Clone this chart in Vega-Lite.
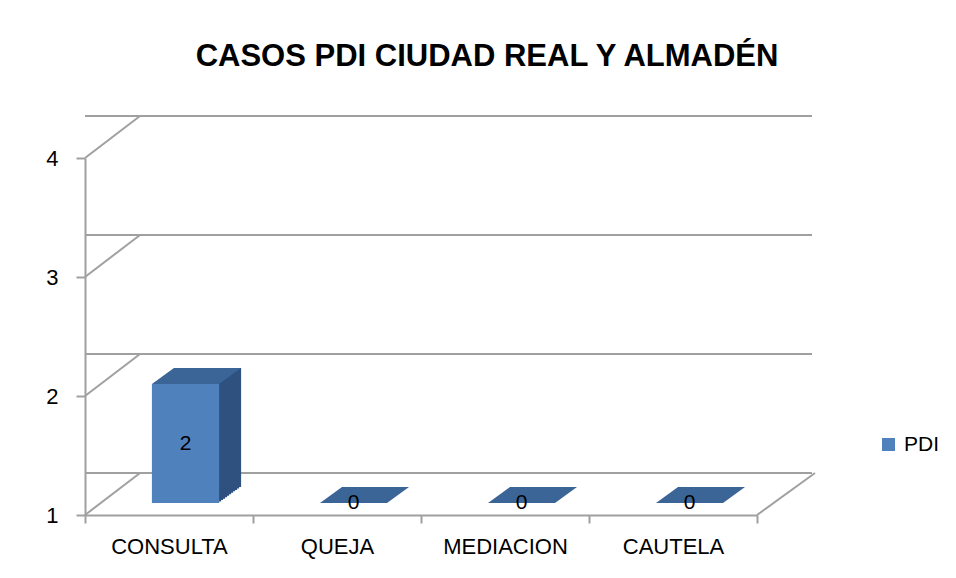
{
  "$schema": "https://vega.github.io/schema/vega-lite/v6.json",
  "width": 672,
  "height": 357,
  "autosize": {"type": "none"},
  "padding": {"left": 85, "top": 158, "right": 199, "bottom": 63},
  "background": "white",
  "title": {"text": "CASOS PDI CIUDAD REAL Y ALMADÉN", "font": "Liberation Sans", "fontSize": 31, "fontWeight": "bold", "color": "#000000", "anchor": "middle", "dx": 66, "offset": 42},
  "datasets": {
    "grid": [{"value": 1}, {"value": 2}, {"value": 3}, {"value": 4}],
    "cases": [
      {"cat": "CONSULTA", "value": 2, "series": "PDI"},
      {"cat": "QUEJA", "value": 0, "series": "PDI"},
      {"cat": "MEDIACION", "value": 0, "series": "PDI"},
      {"cat": "CAUTELA", "value": 0, "series": "PDI"}
    ]
  },
  "layer": [
    {
      "layer": [
        {
          "data": {"name": "grid"},
          "mark": {"type": "rule", "color": "#a0a0a0", "strokeWidth": 2, "xOffset": 55, "x2Offset": 58, "yOffset": -42},
          "encoding": {"y": {"field": "value", "type": "quantitative", "scale": {"domain": [1, 4], "clamp": true, "nice": false, "zero": false}}}
        },
        {
          "data": {"name": "grid"},
          "mark": {"type": "rule", "color": "#a0a0a0", "strokeWidth": 2, "x2Offset": 55, "y2Offset": -42},
          "encoding": {
            "x": {"datum": "CONSULTA", "type": "nominal", "bandPosition": 0, "scale": {"domain": ["CONSULTA", "QUEJA", "MEDIACION", "CAUTELA"]}},
            "x2": {"datum": "CONSULTA", "bandPosition": 0},
            "y": {"field": "value", "type": "quantitative", "scale": {"domain": [1, 4], "clamp": true, "nice": false, "zero": false}},
            "y2": {"field": "value"}
          }
        },
        {
          "data": {"name": "grid"},
          "transform": [{"filter": "datum.value == 1"}],
          "mark": {"type": "rule", "color": "#a0a0a0", "strokeWidth": 2, "x2Offset": 58, "y2Offset": -42},
          "encoding": {
            "x": {"datum": "CAUTELA", "type": "nominal", "bandPosition": 1, "scale": {"domain": ["CONSULTA", "QUEJA", "MEDIACION", "CAUTELA"]}},
            "x2": {"datum": "CAUTELA", "bandPosition": 1},
            "y": {"field": "value", "type": "quantitative", "scale": {"domain": [1, 4], "clamp": true, "nice": false, "zero": false}},
            "y2": {"field": "value"}
          }
        },
        {
          "data": {"name": "cases"},
          "encoding": {
            "x": {"field": "cat", "type": "nominal", "scale": {"domain": ["CONSULTA", "QUEJA", "MEDIACION", "CAUTELA"]}},
            "y": {"field": "value", "type": "quantitative", "scale": {"domain": [1, 4], "clamp": true, "nice": false, "zero": false}},
            "y2": {"datum": 1}
          },
          "layer": [
            {"mark": {"type": "bar", "color": "#2f5180", "width": {"band": 0.4}, "xOffset": 18.5, "x2Offset": 18.5, "yOffset": -13.45, "y2Offset": -13.45}},
            {"mark": {"type": "bar", "color": "#2f5180", "width": {"band": 0.4}, "xOffset": 20.5, "x2Offset": 20.5, "yOffset": -14.91, "y2Offset": -14.91}},
            {"mark": {"type": "bar", "color": "#2f5180", "width": {"band": 0.4}, "xOffset": 22.5, "x2Offset": 22.5, "yOffset": -16.36, "y2Offset": -16.36}},
            {"mark": {"type": "bar", "color": "#2f5180", "width": {"band": 0.4}, "xOffset": 24.5, "x2Offset": 24.5, "yOffset": -17.82, "y2Offset": -17.82}},
            {"mark": {"type": "bar", "color": "#2f5180", "width": {"band": 0.4}, "xOffset": 26.5, "x2Offset": 26.5, "yOffset": -19.27, "y2Offset": -19.27}},
            {"mark": {"type": "bar", "color": "#2f5180", "width": {"band": 0.4}, "xOffset": 28.5, "x2Offset": 28.5, "yOffset": -20.73, "y2Offset": -20.73}},
            {"mark": {"type": "bar", "color": "#2f5180", "width": {"band": 0.4}, "xOffset": 30.5, "x2Offset": 30.5, "yOffset": -22.18, "y2Offset": -22.18}},
            {"mark": {"type": "bar", "color": "#2f5180", "width": {"band": 0.4}, "xOffset": 32.5, "x2Offset": 32.5, "yOffset": -23.64, "y2Offset": -23.64}},
            {"mark": {"type": "bar", "color": "#2f5180", "width": {"band": 0.4}, "xOffset": 34.5, "x2Offset": 34.5, "yOffset": -25.09, "y2Offset": -25.09}},
            {"mark": {"type": "bar", "color": "#2f5180", "width": {"band": 0.4}, "xOffset": 36.5, "x2Offset": 36.5, "yOffset": -26.55, "y2Offset": -26.55}},
            {"mark": {"type": "bar", "color": "#2f5180", "width": {"band": 0.4}, "xOffset": 38.5, "x2Offset": 38.5, "yOffset": -28, "y2Offset": -28}}
          ]
        },
        {
          "data": {"name": "cases"},
          "mark": {"type": "point", "shape": "M-3.35,0L3.35,0L5.55,-1.6L-1.15,-1.6Z", "size": 400, "filled": true, "opacity": 1, "color": "#3b6497", "strokeWidth": 0, "xOffset": 16.5, "yOffset": -12},
          "encoding": {
            "x": {"field": "cat", "type": "nominal", "scale": {"domain": ["CONSULTA", "QUEJA", "MEDIACION", "CAUTELA"]}},
            "y": {"field": "value", "type": "quantitative", "scale": {"domain": [1, 4], "clamp": true, "nice": false, "zero": false}}
          }
        },
        {
          "data": {"name": "cases"},
          "mark": {"type": "bar", "width": {"band": 0.4}, "xOffset": 16.5, "x2Offset": 16.5, "yOffset": -12, "y2Offset": -12},
          "encoding": {
            "x": {"field": "cat", "type": "nominal", "scale": {"domain": ["CONSULTA", "QUEJA", "MEDIACION", "CAUTELA"]},
              "axis": {"title": null, "labelAngle": 0, "bandPosition": 0.5, "labelAlign": "center", "tickBand": "extent", "tickSize": 8, "labelPadding": 23, "labelFontSize": 22}},
            "y": {"field": "value", "type": "quantitative", "scale": {"domain": [1, 4], "clamp": true, "nice": false, "zero": false},
              "axis": {"title": null, "values": [1, 2, 3, 4], "format": "d", "tickSize": 9, "labelPadding": 18, "labelFontSize": 22, "grid": false}},
            "y2": {"datum": 1},
            "color": {"field": "series", "type": "nominal", "scale": {"range": ["#4f81bd"]},
              "legend": {"title": null, "orient": "none", "legendX": 793, "legendY": 276, "padding": 0, "symbolType": "square", "symbolSize": 169, "symbolStrokeWidth": 0, "labelFontSize": 21, "labelOffset": 5}}
          }
        }
      ]
    },
    {
      "data": {"name": "cases"},
      "mark": {"type": "text", "fontSize": 21, "font": "Liberation Sans", "color": "#000000", "baseline": "middle", "align": "center", "xOffset": 16.5, "yOffset": -12},
      "encoding": {
        "x": {"field": "cat", "type": "nominal", "scale": {"domain": ["CONSULTA", "QUEJA", "MEDIACION", "CAUTELA"]}},
        "y": {"field": "value", "type": "quantitative", "scale": {"domain": [1, 7], "clamp": true, "nice": false, "zero": false}, "axis": null},
        "text": {"field": "value", "type": "quantitative"}
      }
    }
  ],
  "resolve": {"scale": {"y": "independent"}},
  "config": {
    "view": {"stroke": null},
    "scale": {"bandPaddingInner": 0, "bandPaddingOuter": 0},
    "axis": {"labelFont": "Liberation Sans", "labelColor": "#000000", "domainColor": "#a0a0a0", "tickColor": "#a0a0a0", "domainWidth": 2, "tickWidth": 2, "grid": false},
    "legend": {"labelFont": "Liberation Sans", "labelColor": "#000000"}
  }
}
